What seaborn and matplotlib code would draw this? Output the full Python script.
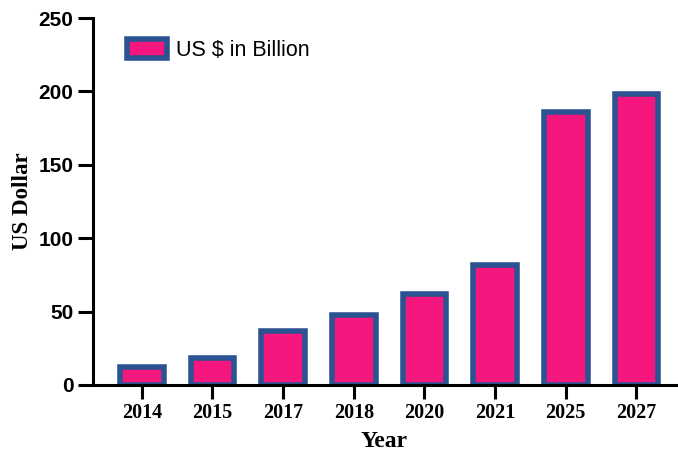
import matplotlib
matplotlib.use("Agg")
import matplotlib.pyplot as plt
from matplotlib.patches import Patch
import seaborn as sns
import pandas as pd

# Market size by year (US $ billion)
years = ["2014", "2015", "2017", "2018", "2020", "2021", "2025", "2027"]
values = [12, 18.4, 37, 48, 62, 82, 186, 198]
series_label = "US $ in Billion"
y_ticks = [0, 50, 100, 150, 200, 250]

fill_color = "#F5167E"
edge_color = "#2B5291"
sans = ["Liberation Sans", "DejaVu Sans"]
serif = ["Liberation Serif", "DejaVu Serif"]

sns.set_theme(style="white")
plt.rcParams["font.family"] = sans
plt.rcParams["text.color"] = "black"
plt.rcParams["axes.labelcolor"] = "black"
plt.rcParams["xtick.color"] = "black"
plt.rcParams["ytick.color"] = "black"

df = pd.DataFrame({"Year": years, "Value": values})

fig = plt.figure(figsize=(6.78, 4.54), dpi=100)
ax = fig.add_axes([93 / 678, (454 - 385) / 454, (676 - 93) / 678, (385 - 18) / 454])

sns.barplot(data=df, x="Year", y="Value", ax=ax, color=fill_color,
            saturation=1, edgecolor=edge_color, linewidth=4, width=0.62)

ax.set_xlim(-0.69, len(years) - 1 + 0.56)
ax.set_ylim(0, 250)
ax.set_yticks(y_ticks)

for side in ("top", "right"):
    ax.spines[side].set_visible(False)
for side in ("left", "bottom"):
    ax.spines[side].set_linewidth(2.2)
    ax.spines[side].set_color("black")

ax.tick_params(axis="y", direction="out", length=11, width=2.2, color="black",
               labelcolor="black", left=True, pad=3)
ax.tick_params(axis="x", direction="out", length=10, width=2.2, color="black",
               labelcolor="black", bottom=True, pad=3)

for lbl in ax.get_yticklabels():
    lbl.set_fontfamily(sans)
    lbl.set_fontweight("bold")
    lbl.set_fontsize(15)
for lbl in ax.get_xticklabels():
    lbl.set_fontfamily(serif)
    lbl.set_fontweight("bold")
    lbl.set_fontsize(14.5)

ax.set_xlabel("Year", fontfamily=serif, fontweight="bold", fontsize=17,
              color="black", labelpad=6)
ax.set_ylabel("US Dollar", fontfamily=serif, fontweight="bold", fontsize=16.5,
              color="black", labelpad=4)

handle = Patch(facecolor=fill_color, edgecolor=edge_color, linewidth=4)
leg = ax.legend([handle], [series_label], loc="upper left", frameon=False,
                bbox_to_anchor=(0.025, 0.995), handlelength=1.85,
                handleheight=0.95, handletextpad=0.45,
                prop={"family": sans, "size": 15.5})
for t in leg.get_texts():
    t.set_color("black")

fig.savefig("out.png", dpi=100)
